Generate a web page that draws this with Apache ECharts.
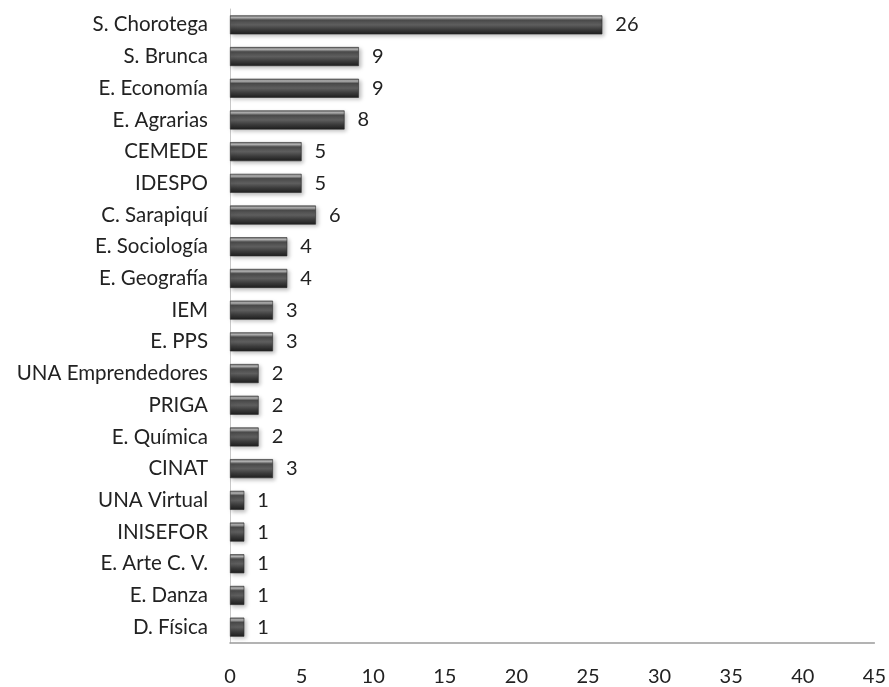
<!DOCTYPE html>
<html><head><meta charset="utf-8">
<script src="https://cdn.jsdelivr.net/npm/echarts@6/dist/echarts.min.js"></script>
<style>html,body{margin:0;padding:0;background:#fff}#c{width:889px;height:687px}</style>
</head><body><div id="c"></div>
<script>
const categories = ["S. Chorotega","S. Brunca","E. Economía","E. Agrarias","CEMEDE","IDESPO","C. Sarapiquí","E. Sociología","E. Geografía","IEM","E. PPS","UNA Emprendedores","PRIGA","E. Química","CINAT","UNA Virtual","INISEFOR","E. Arte C. V.","E. Danza","D. Física"];
const values = [26,9,9,8,5,5,6,4,4,3,3,2,2,2,3,1,1,1,1,1];
const xTicks = [0,5,10,15,20,25,30,35,40,45];

const chart = echarts.init(document.getElementById('c'));
const font = 'Lato, "Open Sans", sans-serif';
chart.setOption({
  animation:false,
  grid:{left:230,right:13,top:9,bottom:44,containLabel:false},
  xAxis:{type:'value',min:xTicks[0],max:xTicks[xTicks.length-1],interval:5,
    axisLine:{show:true,lineStyle:{color:'#9a9a9a',width:1.5}},
    axisTick:{show:false},splitLine:{show:false},
    axisLabel:{color:'#222',fontSize:20,fontFamily:font,margin:24}},
  yAxis:{type:'category',data:categories,inverse:true,
    axisLine:{show:true,lineStyle:{color:'#c8c8c8',width:1}},
    axisTick:{show:false},
    axisLabel:{color:'#222',fontSize:20.5,fontFamily:font,margin:22}},
  series:[{type:'bar',data:values,barWidth:19,
    itemStyle:{
      color:new echarts.graphic.LinearGradient(0,0,0,1,[
        {offset:0,color:'#6a6a6a'},{offset:0.12,color:'#b5b5b5'},{offset:0.25,color:'#4a4a4a'},
        {offset:0.5,color:'#5e5e5e'},{offset:0.75,color:'#3a3a3a'},{offset:1,color:'#1e1e1e'}]),
      borderColor:'#2a2a2a',borderWidth:0.6,
      shadowColor:'rgba(0,0,0,0.25)',shadowBlur:4,shadowOffsetX:2,shadowOffsetY:2},
    label:{show:true,position:'right',distance:13,color:'#222',fontSize:20,fontFamily:font}
  }]
});
</script></body></html>
